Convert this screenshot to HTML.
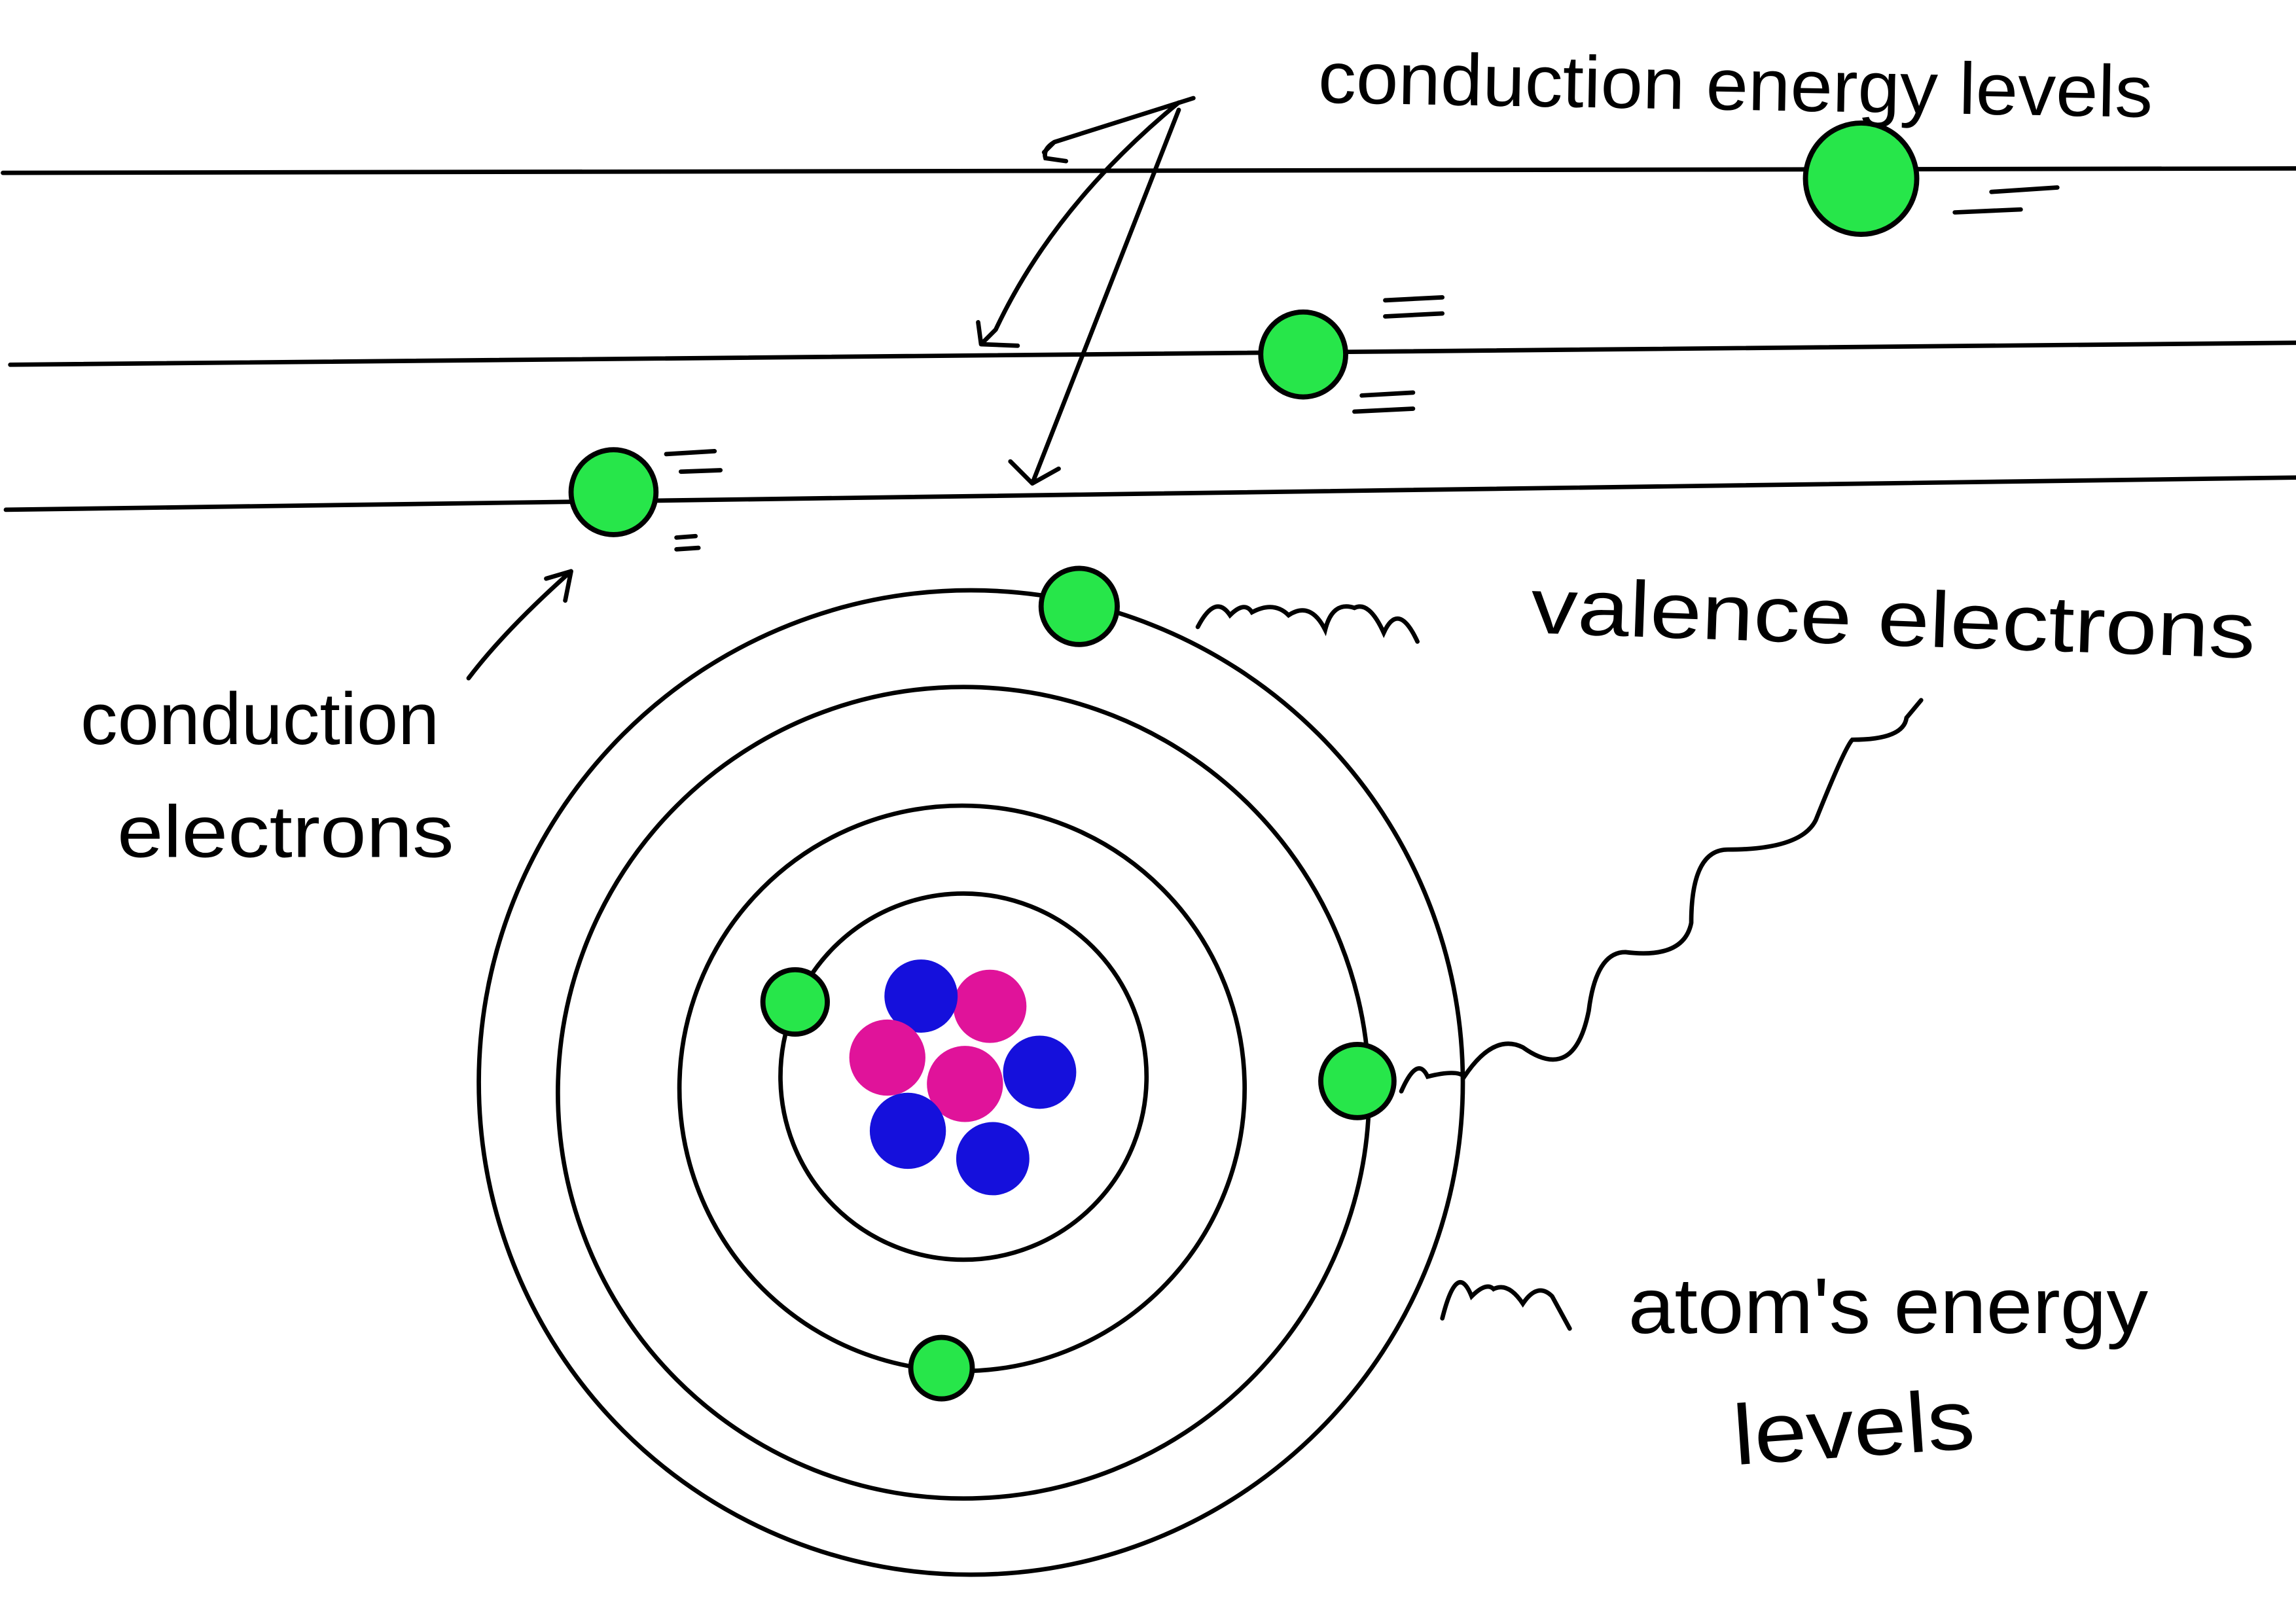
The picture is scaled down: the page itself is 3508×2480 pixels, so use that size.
<!DOCTYPE html>
<html><head><meta charset="utf-8"><style>
html,body{margin:0;padding:0;background:#fff;}
svg{display:block;}
text{font-family:"Liberation Sans",sans-serif;fill:#000;}
</style></head><body>
<svg width="3508" height="2480" viewBox="0 0 1568 1108" preserveAspectRatio="none" xmlns="http://www.w3.org/2000/svg">
<rect width="1568" height="1108" fill="#fff"/>
<g stroke="#000" stroke-width="3" fill="none" stroke-linecap="round">
<path d="M2 118 L1568 115"/>
<path d="M7 249 L1568 234"/>
<path d="M4 348 L1568 326"/>
<circle cx="663" cy="739" r="336"/>
<circle cx="658" cy="746" r="277"/>
<circle cx="657" cy="743" r="193"/>
<circle cx="658" cy="735" r="125"/>
<path d="M815 67 L720 97 M720 97 Q712 102 714 108 L728 110 M720 97 L713 104"/>
<path d="M805 70 Q720 140 680 225 M680 225 L670 235 M670 235 L695 236 M670 235 L668 220"/>
<path d="M805 75 L705 330 M705 330 L690 315 M705 330 L723 320"/>
<path d="M1335 145 L1380 143 M1360 131 L1405 128 M946 205 L985 203 M946 216 L985 214 M930 270 L965 268 M925 281 L965 279 M455 310 L488 308 M465 322 L492 321 M462 367 L475 366 M462 375 L477 374"/>
<path d="M320 463 Q345 430 390 390 M390 390 L373 395 M390 390 L386 410"/>
<path d="M818 428 Q830 405 840 420 Q850 410 855 418 Q870 410 880 420 Q895 410 905 430 Q910 410 925 415 Q935 410 945 432 Q955 410 968 438"/>
<path d="M957 745 Q968 720 975 735 Q995 730 1000 735 Q1020 705 1040 715 Q1075 740 1085 690 Q1090 650 1110 650 Q1150 655 1155 630 Q1155 580 1180 580 Q1230 580 1240 560 Q1260 510 1265 505 Q1300 505 1302 490 L1312 478"/>
<path d="M985 900 Q995 860 1005 885 Q1015 875 1020 880 Q1030 875 1040 890 Q1050 875 1060 885 L1072 907"/>
</g>
<g>
<circle cx="676" cy="687" r="25" fill="#e0139a"/>
<circle cx="629" cy="680" r="25" fill="#1510dc"/>
<circle cx="606" cy="722" r="26" fill="#e0139a"/>
<circle cx="659" cy="740" r="26" fill="#e0139a"/>
<circle cx="710" cy="732" r="25" fill="#1510dc"/>
<circle cx="620" cy="772" r="26" fill="#1510dc"/>
<circle cx="678" cy="791" r="25" fill="#1510dc"/>
</g>
<g fill="#27e64a" stroke="#000" stroke-width="3.5">
<circle cx="1271" cy="122" r="38"/>
<circle cx="890" cy="242" r="29"/>
<circle cx="419" cy="336" r="29"/>
<circle cx="737" cy="414" r="26"/>
<circle cx="927" cy="738" r="25"/>
<circle cx="643" cy="934" r="21"/>
<circle cx="543" cy="684" r="22"/>
</g>
<text x="900" y="70" font-size="50" textLength="570" lengthAdjust="spacingAndGlyphs" transform="rotate(1 900 70)">conduction energy levels</text>
<text x="1045" y="432" font-size="54" textLength="495" lengthAdjust="spacingAndGlyphs" transform="rotate(2 1045 432)">valence electrons</text>
<text x="55" y="508" font-size="50" textLength="245" lengthAdjust="spacingAndGlyphs">conduction</text>
<text x="80" y="585" font-size="50" textLength="230" lengthAdjust="spacingAndGlyphs">electrons</text>
<text x="1112" y="910" font-size="54" textLength="355" lengthAdjust="spacingAndGlyphs">atom's energy</text>
<text x="1185" y="1000" font-size="58" textLength="165" lengthAdjust="spacingAndGlyphs" transform="rotate(-4 1185 1000)">levels</text>
</svg>
</body></html>
